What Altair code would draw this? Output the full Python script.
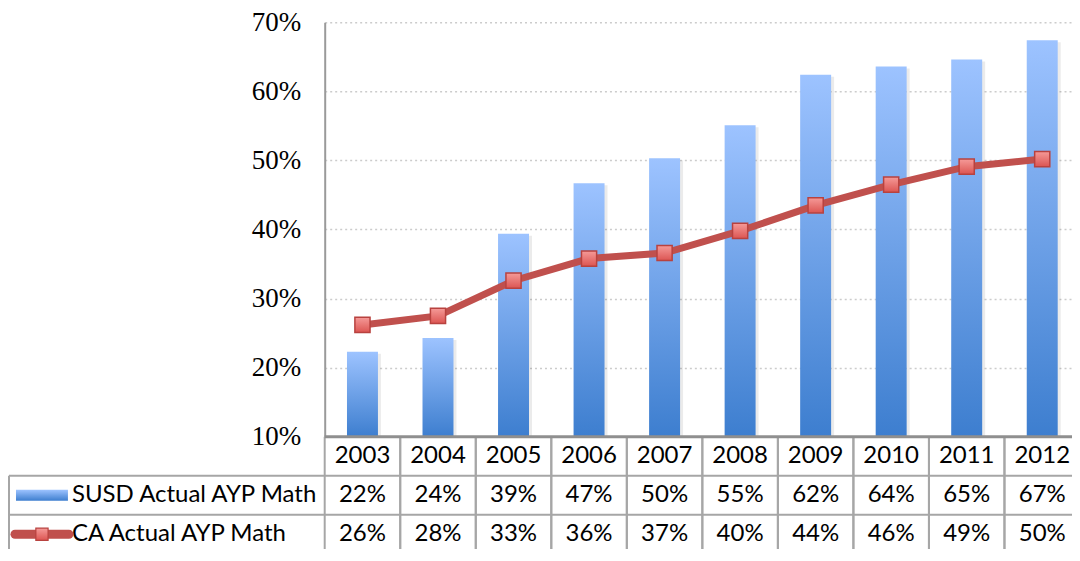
import altair as alt
import pandas as pd

# ---------------- data ----------------
years = ["2003", "2004", "2005", "2006", "2007", "2008", "2009", "2010", "2011", "2012"]
susd = [22.3, 24.3, 39.4, 46.7, 50.3, 55.1, 62.4, 63.6, 64.6, 67.4]
ca = [26.2, 27.5, 32.6, 35.8, 36.6, 39.8, 43.5, 46.5, 49.1, 50.2]
susd_labels = ["22%", "24%", "39%", "47%", "50%", "55%", "62%", "64%", "65%", "67%"]
ca_labels = ["26%", "28%", "33%", "36%", "37%", "40%", "44%", "46%", "49%", "50%"]
series = ["SUSD Actual AYP Math", "CA Actual AYP Math"]
y_ticks = [0.1, 0.2, 0.3, 0.4, 0.5, 0.6, 0.7]

# ---------------- layout constants ----------------
W = 756          # plot width (right border runs past the page edge)
H = 415          # plot height
ROW = 39         # table row height
HT = ROW * 3     # table height
LEFT = 316       # width of the table's label column
GRID = "#A6A6A6"

bar_grad = alt.LinearGradient(
    gradient="linear", x1=0, x2=0, y1=0, y2=1,
    stops=[alt.GradientStop(color="#9DC3FF", offset=0),
           alt.GradientStop(color="#3D7ECF", offset=1)])
mark_grad = alt.LinearGradient(
    gradient="linear", x1=0, x2=0, y1=0, y2=1,
    stops=[alt.GradientStop(color="#F59A98", offset=0),
           alt.GradientStop(color="#DC5552", offset=1)])

df = pd.DataFrame({
    "year": years,
    "susd": [v / 100 for v in susd],
    "ca": [v / 100 for v in ca],
})

x_top = alt.X("year:N", sort=years,
              scale=alt.Scale(domain=years, paddingInner=0, paddingOuter=0),
              axis=None)
y_scale = alt.Scale(domain=[0.1, 0.7], nice=False, zero=False)
y_axis = alt.Axis(values=y_ticks, format=".0%", labelFont="Liberation Serif",
                  labelFontSize=27, labelColor="black", labelPadding=24,
                  ticks=False, domainColor="#9A9A9A", domainWidth=2,
                  grid=True, gridColor="#CCCCCC", gridDash=[2, 3], gridWidth=1.5,
                  title=None)

shadow = alt.Chart(df).mark_bar(size=31, color="#000000", opacity=0.08,
                                xOffset=3, yOffset=2).encode(
    x=x_top,
    y=alt.Y("susd:Q", scale=y_scale, axis=y_axis),
    y2=alt.datum(0.1),
)
bars = alt.Chart(df).mark_bar(size=31, fill=bar_grad).encode(
    x=x_top,
    y=alt.Y("susd:Q", scale=y_scale, axis=y_axis),
    y2=alt.datum(0.1),
)
line = alt.Chart(df).mark_line(color="#C0504D", strokeWidth=7).encode(
    x=x_top, y=alt.Y("ca:Q", scale=y_scale, axis=y_axis))
pts = alt.Chart(df).mark_point(shape="square", size=230, filled=False,
                               fill=mark_grad, fillOpacity=1,
                               stroke="#B8423F", strokeWidth=1.5, opacity=1).encode(
    x=x_top, y=alt.Y("ca:Q", scale=y_scale, axis=y_axis))

top = alt.layer(shadow, bars, line, pts).properties(width=W, height=H)

# ---------------- data table ----------------
rows = ["hdr"] + series
tbl = pd.DataFrame(
    [{"year": y, "row": "hdr", "txt": y} for y in years]
    + [{"year": y, "row": series[0], "txt": t} for y, t in zip(years, susd_labels)]
    + [{"year": y, "row": series[1], "txt": t} for y, t in zip(years, ca_labels)]
)
x_scale_t = alt.Scale(domain=years, paddingInner=0, paddingOuter=0)
y_scale_t = alt.Scale(domain=rows, paddingInner=0, paddingOuter=0)

cells = alt.Chart(tbl).mark_text(font="Lato", fontSize=24, color="black",
                                 baseline="middle").encode(
    x=alt.X("year:N", scale=x_scale_t, axis=None),
    y=alt.Y("row:N", scale=y_scale_t, axis=None),
    text="txt:N",
)
ydf = pd.DataFrame({"year": years})
vlines0 = alt.Chart(ydf).mark_rule(color=GRID, strokeWidth=2).encode(
    x=alt.X("year:N", scale=x_scale_t, axis=None, bandPosition=0))
vlines1 = alt.Chart(ydf).mark_rule(color=GRID, strokeWidth=2).encode(
    x=alt.X("year:N", scale=x_scale_t, axis=None, bandPosition=1))
top_line = alt.Chart(pd.DataFrame({"row": ["hdr"]})).mark_rule(
    color="#8F8F8F", strokeWidth=3).encode(
    y=alt.Y("row:N", scale=y_scale_t, axis=None, bandPosition=0))
sdf = pd.DataFrame({"row": series})
hlines = alt.Chart(sdf).mark_rule(color=GRID, strokeWidth=2).encode(
    y=alt.Y("row:N", scale=y_scale_t, axis=None, bandPosition=0),
    x=alt.value(-LEFT), x2=alt.value(W))
left_border = alt.Chart(pd.DataFrame({"row": [series[0]]})).mark_rule(
    color=GRID, strokeWidth=2).encode(
    x=alt.value(-LEFT),
    y=alt.Y("row:N", scale=y_scale_t, axis=None, bandPosition=0),
    y2=alt.value(HT))
names = alt.Chart(sdf).mark_text(font="Lato", fontSize=24, color="black",
                                 align="left", baseline="middle").encode(
    x=alt.value(-253),
    y=alt.Y("row:N", scale=y_scale_t, axis=None),
    text="row:N")

susd_sw = alt.Chart(pd.DataFrame({"row": [series[0]]})).mark_bar(
    size=11, fill=bar_grad, orient="horizontal").encode(
    x=alt.value(-309), x2=alt.value(-257),
    y=alt.Y("row:N", scale=y_scale_t, axis=None))
ca_line = alt.Chart(pd.DataFrame({"row": [series[1]]})).mark_rule(
    color="#C0504D", strokeWidth=9, strokeCap="round").encode(
    x=alt.value(-310), x2=alt.value(-256),
    y=alt.Y("row:N", scale=y_scale_t, axis=None))
ca_pt = alt.Chart(pd.DataFrame({"row": [series[1]]})).mark_point(
    shape="square", size=150, filled=False, fill=mark_grad, fillOpacity=1,
    stroke="#B8423F", strokeWidth=1.2, opacity=1).encode(
    x=alt.value(-283),
    y=alt.Y("row:N", scale=y_scale_t, axis=None))

table = alt.layer(vlines0, vlines1, hlines, left_border, top_line, cells, names,
                  susd_sw, ca_line, ca_pt).properties(width=W, height=HT)

# negative padding trims the parts that run past the page edge (as in the original)
chart = alt.vconcat(top, table, spacing=0, bounds="flush").resolve_scale(
    x="independent", y="independent").properties(
    padding={"left": 0, "top": 0, "right": -10, "bottom": -6}).configure_view(
    stroke=None)

chart.save("out.html", embed_options={"renderer": "svg", "actions": False})
